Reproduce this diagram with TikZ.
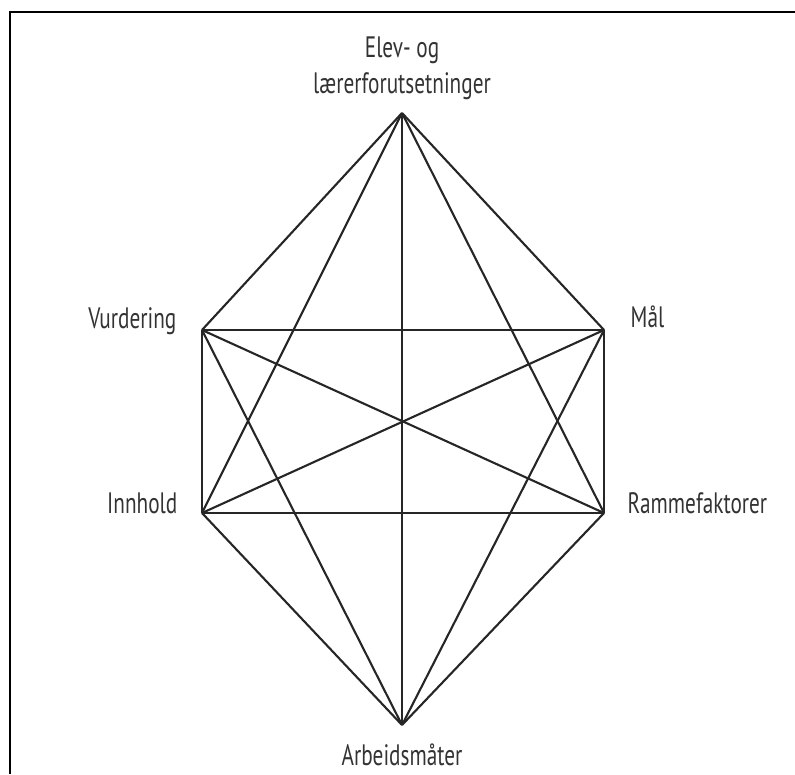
\documentclass[tikz,border=0pt]{standalone}
\usepackage{fontspec}
\setmainfont[FakeStretch=0.72]{PT Sans}
\tikzset{
  edge/.style={line width=0.6pt, black!85},
  lbl/.style={inner sep=0pt, text=black!80, font=\fontsize{8.4}{10}\selectfont}
}
\begin{document}
\begin{tikzpicture}
  \useasboundingbox (0,0) rectangle (7.95,7.74);

  % Frame (top and left)
  \draw[line width=0.6pt] (0.10,0) -- (0.10,7.62) -- (7.95,7.62);

  % Corners
  \coordinate (elev) at (4.02,6.61);
  \coordinate (vurd) at (2.02,4.44);
  \coordinate (maal) at (6.04,4.44);
  \coordinate (innh) at (2.02,2.61);
  \coordinate (ramm) at (6.04,2.61);
  \coordinate (arb)  at (4.02,0.49);

  % Lines from the top
  \draw[edge] (elev) -- (vurd);
  \draw[edge] (elev) -- (maal);
  \draw[edge] (elev) -- (innh);
  \draw[edge] (elev) -- (ramm);
  \draw[edge] (elev) -- (arb);

  % Lines from Vurdering
  \draw[edge] (vurd) -- (maal);
  \draw[edge] (vurd) -- (innh);
  \draw[edge] (vurd) -- (ramm);
  \draw[edge] (vurd) -- (arb);

  % Lines from Mål
  \draw[edge] (maal) -- (innh);
  \draw[edge] (maal) -- (ramm);
  \draw[edge] (maal) -- (arb);

  % Bottom part
  \draw[edge] (innh) -- (ramm);
  \draw[edge] (innh) -- (arb);
  \draw[edge] (ramm) -- (arb);

  % Labels
  \node[lbl, anchor=south, align=center] (elevLbl) at ([yshift=0.13cm]elev)
    {Elev- og\\lærerforutsetninger};
  \node[lbl, anchor=base east] (vurdLbl) at ([xshift=-0.25cm,yshift=0.01cm]vurd) {Vurdering};
  \node[lbl, anchor=base west] (maalLbl) at ([xshift=0.26cm,yshift=0.02cm]maal) {Mål};
  \node[lbl, anchor=base east] (innhLbl) at ([xshift=-0.24cm]innh) {Innhold};
  \node[lbl, anchor=base west] (rammLbl) at ([xshift=0.23cm]ramm) {Rammefaktorer};
  \node[lbl, anchor=base] (arbLbl) at ([yshift=-0.40cm]arb) {Arbeidsmåter};
\end{tikzpicture}
\end{document}
